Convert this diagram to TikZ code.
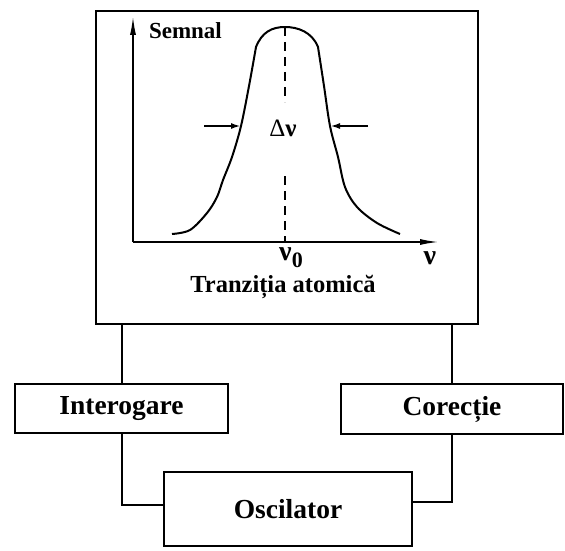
\documentclass[tikz,border=0pt]{standalone}
\usepackage{fontspec}
\setmainfont{Liberation Serif}
\usetikzlibrary{arrows.meta}

\begin{document}
\begin{tikzpicture}[x=1pt,y=-1pt,line width=2pt,>={Latex[length=10pt,width=6pt]},
 blk/.style={draw,line width=2pt,inner sep=0pt,font=\fontsize{27.5}{31}\selectfont\bfseries},
 lbl/.style={inner sep=0pt},
 wire/.style={line width=2pt},
 axis/.style={->,line width=2pt,>={Latex[length=20pt,width=6pt]}}]
\useasboundingbox (0,0) rectangle (565,551);
% blocks
\node[blk,minimum width=382pt,minimum height=313pt] (frame) at (287,167.5) {};
\node[blk,minimum width=213pt,minimum height=49pt] (interog) at (121.5,408.5) {Interogare};
\node[blk,minimum width=222pt,minimum height=50pt] (corect) at (452,409) {Corecție};
\node[blk,minimum width=248pt,minimum height=74pt] (osc) at (288,509) {Oscilator};
\draw[wire] (interog.north |- frame.south) -- (interog.north);
\draw[wire] (corect.north |- frame.south) -- (corect.north);
\draw[wire] (interog.south) |- ([yshift=4pt]osc.west);
\draw[wire] (corect.south) |- ([yshift=7pt]osc.east);
% signal plot
\coordinate (o) at (133,242);
\coordinate (ytip) at (133,15);
\coordinate (xtip) at (440,242);
\draw[axis] (o) -- (ytip);
\draw[axis] (o) -- (xtip);
\draw[wire,line join=round] plot[smooth,tension=0.55] coordinates {(172,234) (190,230) (207,213) (217,197)
 (223,180) (232,157) (241,126) (249,86) (256,47)}
 .. controls (262,32) and (272,27) .. (285,27) .. controls (298,27) and (312,32) .. (318,47)
 -- plot[smooth,tension=0.55] coordinates {(318,47) (324,86) (330,126) (338,157) (345,187)
 (357,207) (377,223) (400,234)};
\coordinate (peak) at (285,27);
\coordinate (da) at (285,102);
\coordinate (db) at (285,176);
\draw[wire,dash pattern=on 9pt off 6pt] (peak) -- (da);
\draw[wire,dash pattern=on 9pt off 6pt] (db) -- (o -| peak);
\coordinate (la) at (204,126);
\coordinate (lb) at (241,126);
\coordinate (ra) at (368,126);
\coordinate (rb) at (330,126);
\draw[wire,->] (la) -- (lb);
\draw[wire,->] (ra) -- (rb);
% labels
\node[lbl,anchor=west,font=\fontsize{23}{27}\selectfont\bfseries] (semnal) at (148,31) {Semnal};
\node[lbl,font=\fontsize{25}{29}\selectfont] (dnu) at (283,128) {Δ\textbf{ν}};
\node[lbl,font=\fontsize{28}{32}\selectfont\bfseries] (nu0) at (291,258) {ν\raisebox{-7pt}{\fontsize{22}{26}\selectfont 0}};
\node[lbl,font=\fontsize{28}{32}\selectfont\bfseries] (nu) at (430,258) {ν};
\node[lbl,font=\fontsize{24.5}{29}\selectfont\bfseries] (tranz) at (283,287) {Tranziția atomică};
\end{tikzpicture}
\end{document}
